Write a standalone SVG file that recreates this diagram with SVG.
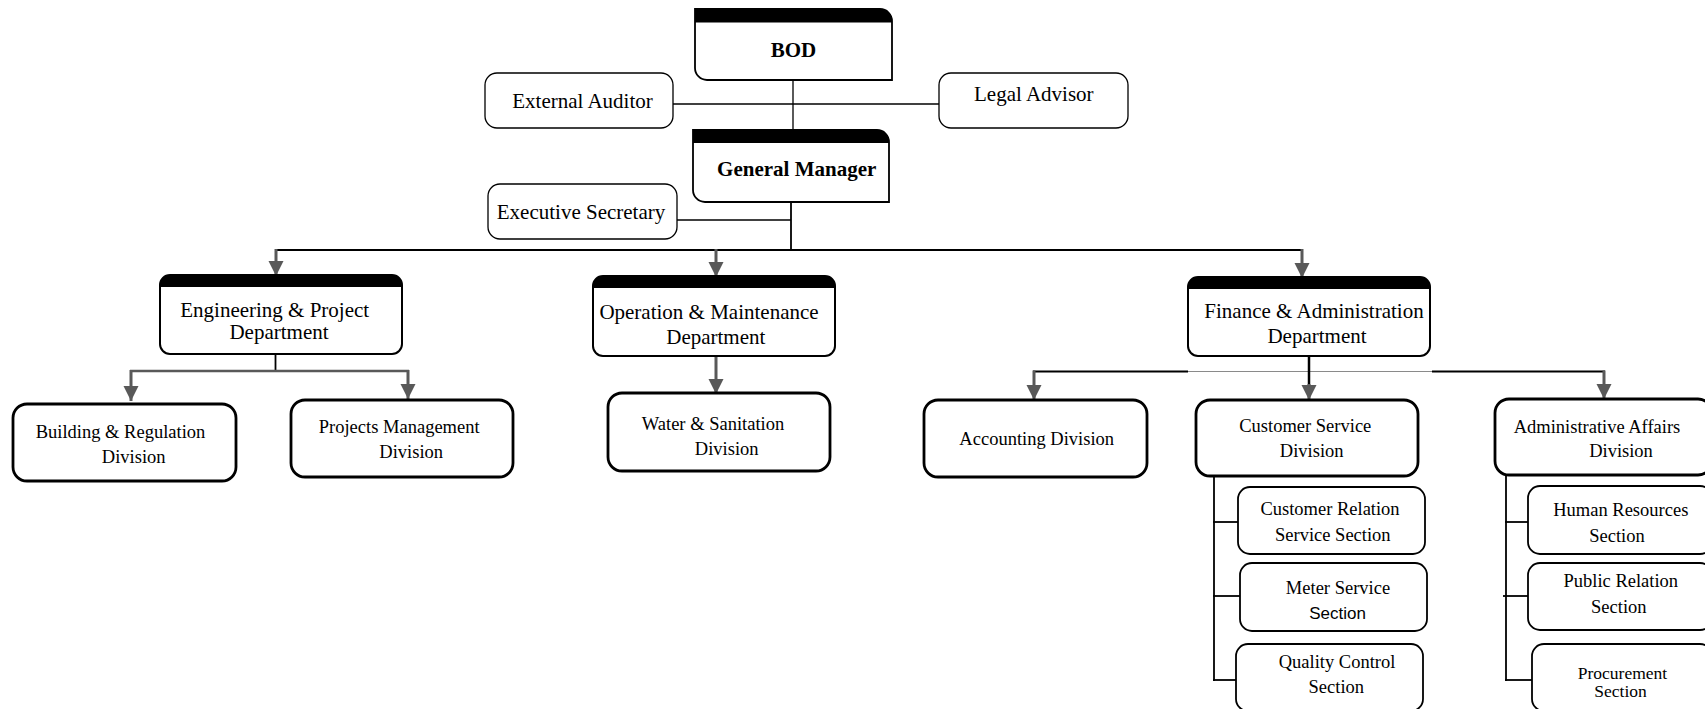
<svg xmlns="http://www.w3.org/2000/svg" width="1705" height="709" viewBox="0 0 1705 709">
  <style>
    text { font-family: "Liberation Serif", "Times New Roman", serif; fill: #000; text-anchor: middle; }
    .t21 { font-size: 21px; }
    .b21 { font-size: 21px; font-weight: bold; }
    .t18 { font-size: 18.5px; }
    .t17 { font-size: 17.5px; }
    .sans { font-family: "Liberation Sans", Arial, sans-serif; font-size: 17px; }
    .side { fill: #fff; stroke: #000; stroke-width: 1.3; }
    .head { fill: #fff; stroke: #000; stroke-width: 1.8; }
    .dept { fill: #fff; stroke: #000; stroke-width: 2; }
    .band { fill: #000; stroke: none; }
    .div { fill: #fff; stroke: #000; stroke-width: 2.8; }
    .sec { fill: #fff; stroke: #000; stroke-width: 1.8; }
    .thin { stroke: #000; stroke-width: 1.3; fill: none; }
    .bus { stroke: #000; stroke-width: 1.8; fill: none; }
    .grey { stroke: #595959; stroke-width: 2.6; fill: none; }
    .arr { stroke: #595959; stroke-width: 3; fill: none; marker-end: url(#tip); }
    .faint { stroke: #8a8a8a; stroke-width: 1; fill: none; }
  </style>
  <defs>
    <marker id="tip" viewBox="0 -8 15 16" refX="15" refY="0" markerWidth="15" markerHeight="16" markerUnits="userSpaceOnUse" orient="auto">
      <path d="M0,-7.5 L15,0 L0,7.5 Z" fill="#595959"/>
    </marker>
  </defs>

  <rect width="1705" height="709" fill="#fff"/>

  <!-- connectors -->
  <g id="connectors">
    <line class="thin" x1="793" y1="80" x2="793" y2="130"/>
    <line class="thin" x1="673" y1="104" x2="939" y2="104"/>
    <line class="thin" x1="677" y1="220" x2="791" y2="220"/>
    <line class="bus" x1="791" y1="202" x2="791" y2="250"/>
    <line class="bus" x1="275" y1="250" x2="1303" y2="250"/>
    <line class="arr" x1="276" y1="249" x2="276" y2="276"/>
    <line class="arr" x1="716" y1="249" x2="716" y2="277"/>
    <line class="arr" x1="1302" y1="249" x2="1302" y2="278"/>

    <!-- engineering branches -->
    <line class="bus" x1="275.5" y1="355" x2="275.5" y2="371"/>
    <line class="grey" x1="130" y1="371" x2="409" y2="371"/>
    <line class="arr" x1="131" y1="370" x2="131" y2="401"/>
    <line class="arr" x1="408" y1="370" x2="408" y2="399"/>

    <!-- operation branch -->
    <line class="arr" x1="716" y1="356" x2="716" y2="394"/>

    <!-- finance branches -->
    <line class="bus" x1="1033" y1="371.5" x2="1188" y2="371.5"/>
    <line class="faint" x1="1188" y1="371.5" x2="1432" y2="371.5"/>
    <line class="bus" x1="1432" y1="371.5" x2="1605" y2="371.5"/>
    <line class="arr" x1="1034" y1="370.5" x2="1034" y2="400"/>
    <line class="arr" x1="1604" y1="370.5" x2="1604" y2="399"/>
    <line stroke="#000" stroke-width="2.5" x1="1309" y1="356" x2="1309" y2="388"/>
    <line class="arr" x1="1309" y1="384" x2="1309" y2="400"/>

    <!-- customer service sections -->
    <line class="bus" x1="1214" y1="476" x2="1214" y2="681"/>
    <line class="bus" x1="1213" y1="522" x2="1239" y2="522"/>
    <line class="bus" x1="1213" y1="596" x2="1241" y2="596"/>
    <line class="bus" x1="1213" y1="680" x2="1241" y2="680"/>

    <!-- administrative sections -->
    <line class="bus" x1="1506" y1="475" x2="1506" y2="681"/>
    <line class="bus" x1="1505" y1="522" x2="1532" y2="522"/>
    <line class="bus" x1="1503" y1="596" x2="1529" y2="596"/>
    <line class="bus" x1="1505" y1="680" x2="1533" y2="680"/>
  </g>

  <!-- top level -->
  <g id="bod">
    <path class="head" d="M695,9 H880 A12,12 0 0 1 892,21 V80 H707 A12,12 0 0 1 695,68 Z"/>
    <path class="band" d="M695,9 H880 A12,12 0 0 1 892,21 V22.5 H695 Z"/>
    <text class="b21" x="793.5" y="57.3">BOD</text>
  </g>
  <g id="external-auditor">
    <rect class="side" x="485" y="73" width="188" height="55" rx="12"/>
    <text class="t21" x="582.5" y="108.3">External Auditor</text>
  </g>
  <g id="legal-advisor">
    <rect class="side" x="939" y="73" width="189" height="55" rx="12"/>
    <text class="t21" x="1033.8" y="100.7">Legal Advisor</text>
  </g>
  <g id="general-manager">
    <path class="head" d="M693,130 H877 A12,12 0 0 1 889,142 V202 H705 A12,12 0 0 1 693,190 Z"/>
    <path class="band" d="M693,130 H877 A12,12 0 0 1 889,142 V143 H693 Z"/>
    <text class="b21" x="796.7" y="176">General Manager</text>
  </g>
  <g id="executive-secretary">
    <rect class="side" x="488" y="184" width="189" height="55" rx="12"/>
    <text class="t21" x="581" y="218.8">Executive Secretary</text>
  </g>

  <!-- departments -->
  <g id="engineering">
    <rect class="dept" x="160" y="275" width="242" height="79" rx="10"/>
    <path class="band" d="M160,287 V285 A10,10 0 0 1 170,275 H392 A10,10 0 0 1 402,285 V287 Z"/>
    <text class="t21" x="274.7" y="317.3">Engineering &amp; Project</text>
    <text class="t21" x="279" y="339">Department</text>
  </g>
  <g id="operation">
    <rect class="dept" x="593" y="276" width="242" height="80" rx="10"/>
    <path class="band" d="M593,288 V286 A10,10 0 0 1 603,276 H825 A10,10 0 0 1 835,286 V288 Z"/>
    <text class="t21" x="709" y="319">Operation &amp; Maintenance</text>
    <text class="t21" x="715.8" y="344">Department</text>
  </g>
  <g id="finance">
    <rect class="dept" x="1188" y="277" width="242" height="79" rx="10"/>
    <path class="band" d="M1188,289 V287 A10,10 0 0 1 1198,277 H1420 A10,10 0 0 1 1430,287 V289 Z"/>
    <text class="t21" x="1314" y="318.3">Finance &amp; Administration</text>
    <text class="t21" x="1317" y="343.3">Department</text>
  </g>

  <!-- divisions -->
  <g id="building">
    <rect class="div" x="13" y="404" width="223" height="77" rx="14"/>
    <text class="t18" x="120.5" y="438.3">Building &amp; Regulation</text>
    <text class="t18" x="133.7" y="463.3">Division</text>
  </g>
  <g id="projects">
    <rect class="div" x="291" y="400" width="222" height="77" rx="14"/>
    <text class="t18" x="399.2" y="432.7">Projects Management</text>
    <text class="t18" x="411.2" y="458.3">Division</text>
  </g>
  <g id="water">
    <rect class="div" x="608" y="393" width="222" height="78" rx="14"/>
    <text class="t18" x="713" y="430">Water &amp; Sanitation</text>
    <text class="t18" x="726.7" y="455">Division</text>
  </g>
  <g id="accounting">
    <rect class="div" x="924" y="400" width="223" height="77" rx="14"/>
    <text class="t18" x="1036.7" y="445">Accounting Division</text>
  </g>
  <g id="customer-service">
    <rect class="div" x="1196" y="400" width="222" height="76" rx="14"/>
    <text class="t18" x="1305.3" y="431.7">Customer Service</text>
    <text class="t18" x="1311.7" y="457.3">Division</text>
  </g>
  <g id="administrative">
    <rect class="div" x="1495" y="399" width="217" height="76" rx="14"/>
    <text class="t18" x="1597" y="433.3">Administrative Affairs</text>
    <text class="t18" x="1621" y="456.7">Division</text>
  </g>

  <!-- sections -->
  <g id="customer-relation">
    <rect class="sec" x="1238" y="487" width="187" height="67" rx="12"/>
    <text class="t18" x="1330" y="515">Customer Relation</text>
    <text class="t18" x="1332.8" y="540.7">Service Section</text>
  </g>
  <g id="meter-service">
    <rect class="sec" x="1240" y="563" width="187" height="68" rx="12"/>
    <text class="t18" x="1338" y="594">Meter Service</text>
    <text class="sans" x="1337.5" y="619.3">Section</text>
  </g>
  <g id="quality-control">
    <rect class="sec" x="1236" y="644" width="187" height="67" rx="12"/>
    <text class="t18" x="1337" y="668.3">Quality Control</text>
    <text class="t18" x="1336.3" y="693.3">Section</text>
  </g>
  <g id="human-resources">
    <rect class="sec" x="1528" y="486" width="184" height="68" rx="12"/>
    <text class="t18" x="1620.8" y="515.7">Human Resources</text>
    <text class="t18" x="1617" y="541.7">Section</text>
  </g>
  <g id="public-relation">
    <rect class="sec" x="1528" y="563" width="184" height="67" rx="12"/>
    <text class="t18" x="1620.8" y="586.7">Public Relation</text>
    <text class="t18" x="1618.8" y="612.7">Section</text>
  </g>
  <g id="procurement">
    <rect class="sec" x="1532" y="644" width="180" height="67" rx="12"/>
    <text class="t17" x="1622.5" y="679">Procurement</text>
    <text class="t17" x="1620.5" y="697">Section</text>
  </g>
</svg>
